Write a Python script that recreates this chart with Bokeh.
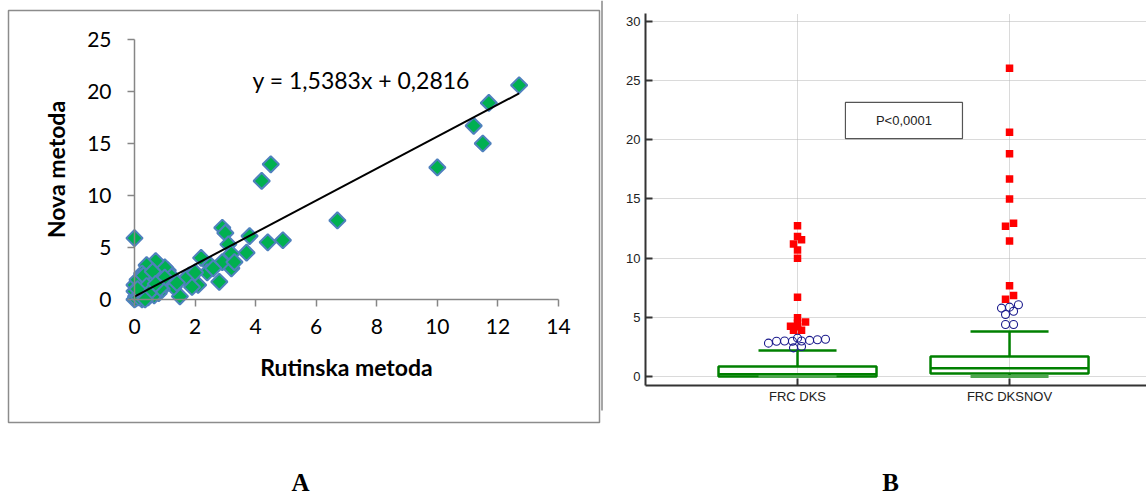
import numpy as np
from bokeh.plotting import figure
from bokeh.models import LinearAxis, FixedTicker, Range1d, Grid, Label
from bokeh.layouts import row, column
from bokeh.embed import file_html
from bokeh.resources import INLINE
from bokeh.core.properties import value

# ---------------- Panel A data ----------------
rutinska = [12.7, 11.7, 11.2, 11.5, 10.0, 4.5, 4.2, 6.7, 4.9, 4.4,
            3.8, 3.7, 2.9, 3.0, 3.1, 3.2, 3.2, 2.9, 2.8, 2.2,
            2.5, 2.4, 2.1, 1.8, 1.7, 1.5, 1.3, 1.1, 1.2, 1.0,
            0.7, 0.5, 0.4, 0.25, 0.75, 0.9, 0.8, 0.0, 0.6, 0.3,
            0.2, 0.1, 0.05, 0.0, 0.0, 0.15, 0.35, 0.45, 0.55, 0.65,
            0.2, 0.1, 0.3, 0.4, 0.0, 0.05, 0.25, 0.15, 0.5, 0.35,
            1.4, 1.0, 0.85, 2.0, 2.6, 3.3, 0.6, 0.7, 1.9, 0.1]
nova = [20.6, 18.9, 16.7, 15.0, 12.7, 13.0, 11.4, 7.6, 5.7, 5.5,
        6.1, 4.5, 6.9, 6.4, 5.3, 4.4, 3.0, 3.6, 1.7, 4.0,
        3.3, 2.6, 1.4, 2.3, 2.0, 0.3, 1.2, 2.8, 2.3, 3.1,
        3.7, 3.0, 3.3, 2.5, 2.0, 1.0, 0.6, 5.9, 1.8, 1.6,
        1.2, 0.5, 0.3, 0.0, 1.4, 0.9, 0.6, 0.2, 1.0, 0.4,
        2.1, 1.9, 2.3, 1.3, 0.8, 0.1, 0.0, 0.2, 0.7, 0.0,
        1.6, 2.1, 1.1, 2.6, 3.0, 3.6, 2.7, 1.5, 1.2, 1.0]
slope = 1.5383
intercept = 0.2816
equation = "y = 1,5383x + 0,2816"
x_title_a = "Rutinska metoda"
y_title_a = "Nova metoda"
x_ticks_a = [0, 2, 4, 6, 8, 10, 12, 14]
y_ticks_a = [0, 5, 10, 15, 20, 25]

# ---------------- Panel B data ----------------
categories = ["FRC DKS", "FRC DKSNOV"]
q1 = [0.0, 0.25]
median = [0.2, 0.7]
q3 = [0.85, 1.7]
whisker_low = [0.0, 0.0]
whisker_high = [2.2, 3.8]
dks_far = [12.74, 11.83, 11.55, 11.2, 10.7, 10.0, 6.7, 4.96, 4.6, 4.5, 4.25, 4.2, 3.9, 3.9]
dks_far_dx = [0, 0, 0.019, -0.019, 0, 0, 0, 0, 0.038, 0, -0.033, 0, -0.019, 0.019]
dks_near = [2.82, 2.98, 3.0, 2.98, 3.24, 3.0, 3.05, 3.1, 3.15, 2.42, 2.53]
dks_near_dx = [-0.137, -0.099, -0.061, -0.024, 0, 0.019, 0.057, 0.094, 0.132, -0.019, 0.019]
nov_far = [26.04, 20.65, 18.82, 16.68, 15.0, 12.96, 12.7, 11.44, 7.66, 6.85, 6.53]
nov_far_dx = [0, 0, 0, 0, 0, 0.019, -0.019, 0, 0, 0.019, -0.019]
nov_near = [5.78, 5.86, 6.06, 5.24, 5.52, 4.4, 4.4]
nov_near_dx = [-0.038, 0, 0.042, -0.019, 0.019, -0.019, 0.019]
y_ticks_b = [0, 5, 10, 15, 20, 25, 30]
p_text = "P<0,0001"
panel_letters = ["A", "B"]

# ================= Panel A =================
pa = figure(width=604, height=430, x_range=Range1d(-4.226, 15.486), y_range=Range1d(-12.596, 28.75),
            x_axis_type=None, y_axis_type=None, toolbar_location=None, output_backend="svg",
            min_border_left=6, min_border_right=1, min_border_top=0, min_border_bottom=0,
            outline_line_color=None, frame_align=False)
pa.extra_x_ranges = {"px": Range1d(6, 603)}
pa.extra_y_ranges = {"px": Range1d(430, 0)}

# panel frame box and the left edge of panel B
pa.quad(left=[8], right=[599], top=[10], bottom=[422], fill_color=None, line_color="#8c8c8c",
        line_width=1.5, x_range_name="px", y_range_name="px")
pa.segment(x0=[601.5], y0=[0], x1=[601.5], y1=[410], line_color="#a6a6a6", line_width=2,
           x_range_name="px", y_range_name="px")

axis_style = dict(axis_line_color="#868686", axis_line_width=1.5, major_tick_line_color="#868686",
                  major_tick_line_width=1.5, major_tick_in=0, major_tick_out=7,
                  minor_tick_in=0, minor_tick_out=0,
                  major_label_text_font="Lato", major_label_text_font_size="21px",
                  major_label_text_color="#000000",
                  axis_label_text_font="Lato", axis_label_text_font_size="23px",
                  axis_label_text_font_style="bold", axis_label_text_color="#000000")
xa = LinearAxis(fixed_location=0, bounds=(0, 14), ticker=FixedTicker(ticks=x_ticks_a),
                axis_label=x_title_a, major_label_standoff=12, axis_label_standoff=16, **axis_style)
ya = LinearAxis(fixed_location=0, bounds=(0, 25), ticker=FixedTicker(ticks=y_ticks_a),
                axis_label=y_title_a, major_label_standoff=16, axis_label_standoff=14, **axis_style)
pa.add_layout(xa, "below")
pa.add_layout(ya, "left")

pa.scatter(rutinska, nova, marker="square", angle=np.pi / 4, size=11.5,
           fill_color="#00B050", line_color="#4F81BD", line_width=2)
tx = np.array([min(rutinska), max(rutinska)])
pa.line(tx, slope * tx + intercept, line_color="#000000", line_width=2)
pa.add_layout(Label(x=3.9, y=21.15, text=equation, text_font="Lato", text_font_size="23px",
                    text_baseline="middle", text_align="left", text_color="#000000"))

# ================= Panel B =================
pb = figure(width=542, height=430, x_range=Range1d(0.283, 2.646), y_range=Range1d(-0.761, 30.676),
            x_axis_type=None, y_axis_type=None, toolbar_location=None, output_backend="svg",
            min_border_left=41, min_border_right=0, min_border_top=13, min_border_bottom=45,
            outline_line_color=None, frame_align=False)
b_axis = dict(axis_line_color="#333333", axis_line_width=2, major_tick_line_color="#333333",
              major_tick_line_width=2, major_tick_in=7, major_tick_out=0,
              minor_tick_in=0, minor_tick_out=0,
              major_label_text_font="Liberation Sans", major_label_text_font_size="13px",
              major_label_text_color="#222222")
pos = np.array([1.0, 2.0])
yb = LinearAxis(ticker=FixedTicker(ticks=y_ticks_b), major_label_standoff=5, **b_axis)
xb = LinearAxis(ticker=FixedTicker(ticks=list(pos)), major_label_standoff=3,
                major_label_overrides={1: categories[0], 2: categories[1]}, **b_axis)
pb.add_layout(yb, "left")
pb.add_layout(xb, "below")
pb.add_layout(Grid(dimension=1, ticker=yb.ticker, grid_line_color="#b5b5b5", grid_line_dash="1 1"))
pb.add_layout(Grid(dimension=0, ticker=xb.ticker, grid_line_color="#b5b5b5", grid_line_dash="1 1"))

hw, cw = 0.3726, 0.184
green = "#008000"
pb.quad(left=pos - hw, right=pos + hw, bottom=q1, top=q3, fill_color=None,
        line_color=green, line_width=2.5)
pb.segment(pos - hw, median, pos + hw, median, line_color=green, line_width=2.5)
pb.segment(pos, q3, pos, whisker_high, line_color=green, line_width=2.5)
pb.segment(pos - cw, whisker_high, pos + cw, whisker_high, line_color=green, line_width=2.5)
pb.segment(pos, q1, pos, whisker_low, line_color=green, line_width=2.5)
pb.segment(pos - cw, whisker_low, pos + cw, whisker_low, line_color="#4ea64e", line_width=3)

pb.scatter(1 + np.array(dks_near_dx), dks_near, marker="circle", size=8, fill_color=None,
           line_color="#1a1a8c", line_width=1.1)
pb.scatter(2 + np.array(nov_near_dx), nov_near, marker="circle", size=8, fill_color=None,
           line_color="#1a1a8c", line_width=1.1)
pb.scatter(1 + np.array(dks_far_dx), dks_far, marker="square", size=7.5, fill_color="#ff0000",
           line_color=None)
pb.scatter(2 + np.array(nov_far_dx), nov_far, marker="square", size=7.5, fill_color="#ff0000",
           line_color=None)

pb.quad(left=[1.226], right=[1.778], top=[23.16], bottom=[20.11], fill_color="#ffffff",
        line_color="#555555", line_width=1.2)
pb.add_layout(Label(x=1.502, y=21.63, text=p_text, text_font="Liberation Sans", text_font_size="13px",
                    text_align="center", text_baseline="middle", text_color="#222222"))

# ================= panel letters =================
pc = figure(width=1146, height=68, x_range=Range1d(0, 1146), y_range=Range1d(498, 430),
            x_axis_type=None, y_axis_type=None, toolbar_location=None, output_backend="svg",
            min_border_left=0, min_border_right=0, min_border_top=0, min_border_bottom=0,
            outline_line_color=None, frame_align=False)
pc.text(x=[300, 890], y=[482, 482], text=panel_letters, text_font=value("Liberation Serif"),
        text_font_style="bold", text_font_size="25px", text_align="center", text_baseline="middle",
        text_color="#000000")

layout = column(row(pa, pb), pc)
open("out.html", "w").write(file_html(layout, INLINE))
